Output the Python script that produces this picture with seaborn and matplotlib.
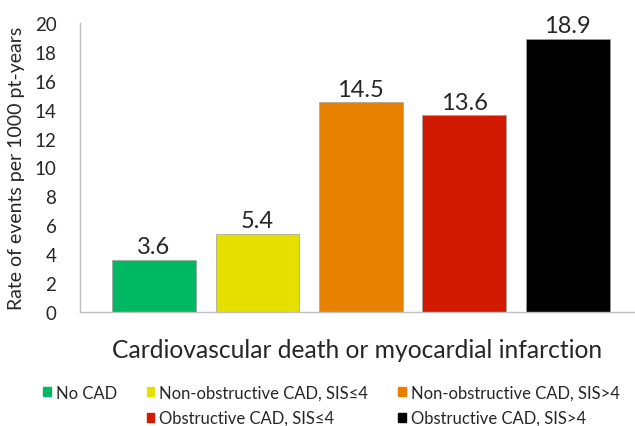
import numpy as np
import pandas as pd
import matplotlib
matplotlib.use("Agg")
import matplotlib.pyplot as plt
import seaborn as sns
from matplotlib.patches import Patch

categories = ["No CAD", "Non-obstructive CAD, SIS\u22644", "Non-obstructive CAD, SIS>4",
              "Obstructive CAD, SIS\u22644", "Obstructive CAD, SIS>4"]
rates = [3.6, 5.4, 14.5, 13.6, 18.9]
colors = ["#00B862", "#E6E000", "#E88100", "#D11A00", "#000000"]
y_ticks = [0, 2, 4, 6, 8, 10, 12, 14, 16, 18, 20]

sns.set_style("white")
plt.rcParams["font.family"] = ["Lato", "DejaVu Sans"]

df = pd.DataFrame({"group": categories, "rate": rates})

fig = plt.figure(figsize=(6.35, 4.27), dpi=100)
ax = fig.add_axes([0.126, 0.267, 0.874, 0.677])
sns.barplot(data=df, x="group", y="rate", hue="group", palette=colors, saturation=1,
            width=0.81, legend=False, ax=ax, edgecolor="#A0A0A0", linewidth=0.5)

for i, v in enumerate(rates):
    ax.text(i, v + 0.2, f"{v:.1f}", ha="center", va="bottom", fontsize=17)

ax.set_xlim(-0.715, 4.65)
ax.set_ylim(0, 20)
ax.set_yticks(y_ticks)
ax.set_yticklabels([str(t) for t in y_ticks], fontsize=13.5)
ax.set_xticks([])
ax.tick_params(axis="y", length=0, pad=17)
ax.set_ylabel("Rate of events per 1000 pt-years", fontsize=14, labelpad=7)
ax.set_xlabel("Cardiovascular death or myocardial infarction", fontsize=17.7, labelpad=19)
for s in ["top", "right"]:
    ax.spines[s].set_visible(False)
for s in ["left", "bottom"]:
    ax.spines[s].set_color("#BFBFBF")
    ax.spines[s].set_linewidth(1)

# legend: column-major order, blank slot under "No CAD"
handles = [Patch(color=c) for c in colors]
blank = Patch(color="none")
order = [handles[0], blank, handles[1], handles[3], handles[2], handles[4]]
labels = [categories[0], "", categories[1], categories[3], categories[2], categories[4]]
fig.legend(order, labels, ncol=3, loc="lower left", bbox_to_anchor=(0.068, 0.0),
           borderaxespad=0, borderpad=0,
           frameon=False, fontsize=12, handlelength=0.45, handleheight=0.45,
           handletextpad=0.3, columnspacing=1.8, labelspacing=0.56)

fig.savefig("out.png", dpi=100)
